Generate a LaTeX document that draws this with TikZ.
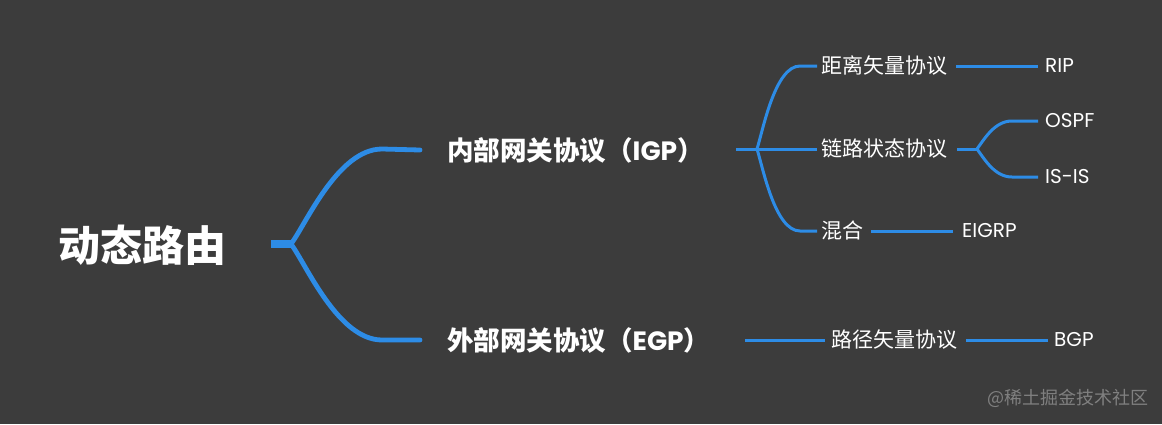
\documentclass[tikz,border=0pt]{standalone}
\usepackage{fontspec}
\setmainfont{Poppins}
\newfontfamily\cjk{Noto Sans CJK SC}
\definecolor{bg}{HTML}{3C3C3C}
\definecolor{bl}{HTML}{2D8CE6}
\definecolor{wm}{HTML}{808080}
\begin{document}
\begin{tikzpicture}[x=1pt,y=-1pt,
  txt/.style={anchor=west,inner sep=0,text=white},
  lvl0/.style={txt,font=\cjk\bfseries\fontsize{42}{42}\selectfont},
  lvl1/.style={txt,font=\bfseries\fontsize{26.5}{26.5}\selectfont},
  lvl2/.style={txt,font=\fontsize{21}{21}\selectfont},
  lvl3/.style={txt,font=\fontsize{20}{20}\selectfont},
  thick0/.style={draw=bl,line width=8},
  main/.style={draw=bl,line width=4.8,line cap=round},
  sub/.style={draw=bl,line width=3}]
\fill[bg] (0,0) rectangle (1162,424);
\useasboundingbox (0,0) rectangle (1162,424);

\node[lvl0] (root) at (58,245) {动态路由};
\node[lvl1] (igp) at (447,150) {{\cjk 内部网关协议（}IGP{\cjk ）}};
\node[lvl1] (egp) at (447,340) {{\cjk 外部网关协议（}EGP{\cjk ）}};
\node[lvl2] (dv) at (821,66) {\cjk 距离矢量协议};
\node[lvl2] (ls) at (821,149) {\cjk 链路状态协议};
\node[lvl2] (mix) at (821,231) {\cjk 混合};
\node[lvl2] (pv) at (831,340) {\cjk 路径矢量协议};
\node[lvl3] (rip) at (1045,66) {RIP};
\node[lvl3] (ospf) at (1045,121) {OSPF};
\node[lvl3] (isis) at (1045,177) {IS-IS};
\node[lvl3] (eigrp) at (962,231) {EIGRP};
\node[lvl3] (bgp) at (1054,340) {BGP};
\node[anchor=west,inner sep=0,text=wm,font=\cjk\fontsize{18}{18}\selectfont] (wmk) at (987,398) {@稀土掘金技术社区};

% root stub
\coordinate (r0) at (271,244);
\coordinate (r1) at (291,244);
\draw[thick0] (r0) -- (r1);
\draw[main] (r1) .. controls (306,224) and (338,149) .. (382,149) -- ([xshift=-27]igp.west);
\draw[main] (r1) .. controls (306,264) and (338,340) .. (382,340) -- ([xshift=-27]egp.west);

% IGP children
\coordinate (io) at (736,149);
\coordinate (ib) at (757,149);
\draw[sub] (io) -- (ib);
\draw[sub] (ib) .. controls (763,130) and (775,66) .. (800,66) -- ([xshift=-4]dv.west);
\draw[sub] (ib) -- ([xshift=-4]ls.west);
\draw[sub] (ib) .. controls (763,168) and (775,231) .. (800,231) -- ([xshift=-4]mix.west);

\draw[sub] ([xshift=9]dv.east) -- ([xshift=-7]rip.west);
\coordinate (lo) at (957,149);
\coordinate (lb) at (977,149);
\draw[sub] (lo) -- (lb);
\draw[sub] (lb) .. controls (985,138) and (995,121) .. (1012,121) -- ([xshift=-7]ospf.west);
\draw[sub] (lb) .. controls (985,160) and (995,177) .. (1012,177) -- ([xshift=-7]isis.west);
\draw[sub] ([xshift=8]mix.east) -- ([xshift=-9]eigrp.west);

% EGP children
\coordinate (eo) at (745,340);
\draw[sub] (eo) -- ([xshift=-6]pv.west);
\draw[sub] ([xshift=9]pv.east) -- ([xshift=-6]bgp.west);
\end{tikzpicture}
\end{document}
